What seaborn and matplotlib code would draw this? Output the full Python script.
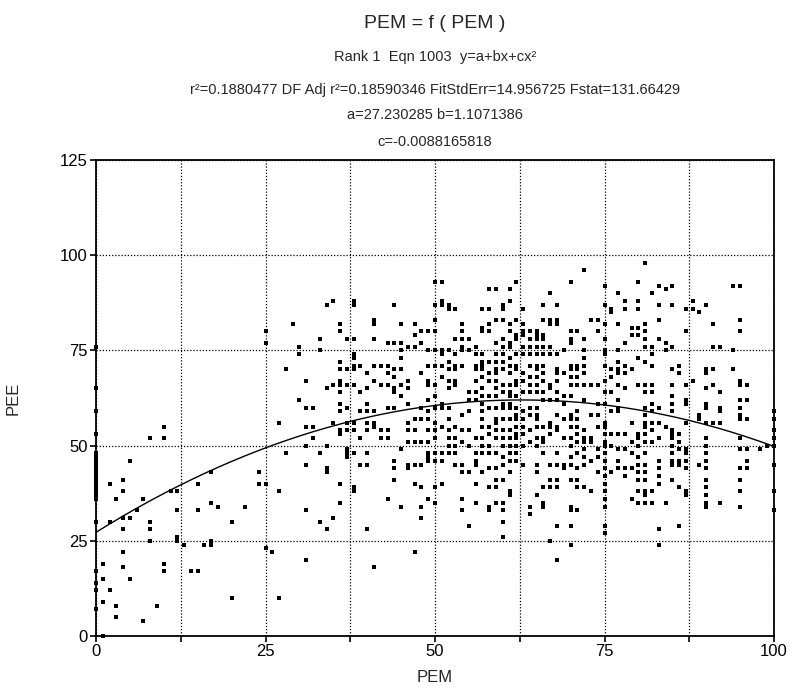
import numpy as np
import pandas as pd
import matplotlib
matplotlib.use("Agg")
import matplotlib.pyplot as plt
import seaborn as sns

# ---- data (PEM on x, PEE on y) ----
pem_columns = [0, 1, 2, 3, 4, 5, 6, 7, 8, 9, 10, 11, 12, 13, 14, 15, 16, 17, 18, 20,
               22, 24, 25, 26, 27, 28, 29, 30, 31, 32, 33, 34, 35, 36, 37, 38, 39, 40,
               41, 42, 43, 44, 45, 46, 47, 48, 49, 50, 51, 52, 53, 54, 55, 56, 57, 58,
               59, 60, 61, 62, 63, 64, 65, 66, 67, 68, 69, 70, 71, 72, 73, 74, 75, 76,
               77, 78, 79, 80, 81, 82, 83, 84, 85, 86, 87, 88, 89, 90, 91, 92, 94, 95,
               96, 98, 99, 100]
pee_columns = [
    [76, 65, 59, 53, 48, 47, 46, 45, 44, 43, 42, 41, 40, 39, 38, 37, 36, 30, 17, 14, 12, 7],
    [19, 15, 9, 0],
    [40, 30, 12],
    [36, 8, 5],
    [41, 38, 31, 28, 22, 18],
    [46, 31, 15],
    [33],
    [36, 4],
    [52, 30, 28, 25],
    [8],
    [55, 52, 19, 17],
    [38],
    [38, 33, 26, 25],
    [24],
    [17],
    [40, 33, 17],
    [24],
    [43, 35, 25, 24],
    [34],
    [30, 10],
    [34],
    [43, 40],
    [80, 77, 40, 23],
    [22],
    [56, 38, 10],
    [70, 48],
    [82],
    [76, 74, 62],
    [67, 60, 55, 50, 45, 33, 20],
    [60, 55, 52],
    [78, 75, 48, 30],
    [87, 65, 50, 44, 43, 28],
    [88, 66, 56, 31],
    [82, 80, 72, 70, 67, 66, 64, 61, 59, 54, 53, 40, 35],
    [78, 70, 66, 60, 56, 54, 49, 48, 47],
    [88, 87, 78, 74, 73, 71, 70, 66, 56, 54, 48, 39, 38],
    [71, 64, 59, 52, 45],
    [69, 65, 61, 59, 56, 54, 48, 45, 28],
    [83, 82, 78, 71, 67, 59, 56, 55, 18],
    [71, 66, 54, 52],
    [77, 71, 69, 66, 60, 54, 52, 36],
    [87, 77, 70, 68, 65, 64, 60, 46, 44, 41],
    [82, 77, 75, 73, 70, 66, 63, 49, 34],
    [76, 67, 65, 61, 56, 54, 51, 45, 44],
    [82, 79, 76, 57, 54, 51, 45, 40, 22],
    [80, 77, 69, 60, 57, 51, 45, 39, 34, 31],
    [80, 75, 71, 67, 66, 62, 59, 57, 54, 51, 48, 47, 46, 36],
    [93, 87, 83, 80, 75, 71, 66, 63, 60, 56, 54, 52, 48, 46, 39, 35],
    [93, 88, 87, 75, 74, 71, 68, 61, 60, 55, 48, 46, 40],
    [87, 86, 75, 72, 70, 67, 65, 60, 57, 54, 52, 50, 48],
    [86, 78, 74, 71, 70, 67, 66, 55, 52, 50, 48, 45],
    [82, 80, 78, 76, 75, 71, 58, 54, 51, 45, 43, 36, 33],
    [78, 75, 64, 62, 59, 54, 50, 43, 29],
    [76, 74, 71, 70, 67, 64, 62, 52, 48, 46, 45, 40, 35],
    [86, 81, 80, 74, 72, 71, 70, 68, 65, 63, 61, 59, 57, 55, 52, 50, 48, 43],
    [91, 86, 82, 80, 72, 69, 67, 63, 60, 55, 53, 50, 48, 44, 39, 34, 33],
    [91, 83, 77, 74, 72, 70, 69, 67, 65, 63, 60, 57, 56, 54, 52, 48, 44, 41, 39, 35],
    [87, 86, 83, 78, 76, 74, 72, 70, 66, 64, 61, 60, 57, 54, 52, 50, 47, 45, 41, 35, 33, 30, 26],
    [91, 88, 82, 80, 77, 76, 73, 71, 69, 66, 64, 63, 61, 60, 57, 54, 52, 50, 48, 46, 43, 38, 37],
    [93, 83, 79, 78, 74, 71, 70, 67, 66, 63, 60, 58, 57, 55, 53, 52, 50, 48, 46],
    [86, 82, 80, 79, 76, 74, 69, 67, 64, 59, 57, 55, 53, 50, 45],
    [80, 78, 76, 74, 71, 68, 66, 64, 60, 58, 54, 51, 34, 32],
    [80, 79, 78, 76, 74, 71, 70, 68, 66, 64, 60, 58, 57, 55, 52, 50, 45, 43, 37],
    [87, 83, 79, 78, 76, 74, 71, 69, 67, 64, 62, 55, 52, 51, 48, 39, 35, 34],
    [90, 83, 82, 76, 74, 66, 65, 62, 56, 55, 53, 45, 41, 39, 25],
    [87, 83, 82, 74, 70, 69, 67, 64, 62, 58, 55, 54, 48, 45, 41, 39, 29, 20],
    [75, 69, 63, 61, 57, 52, 45, 44],
    [93, 80, 78, 77, 71, 70, 68, 66, 63, 58, 57, 55, 52, 50, 47, 45, 41, 34, 33, 29, 24],
    [80, 71, 70, 68, 66, 59, 57, 55, 53, 51, 48, 44, 41, 39, 33],
    [96, 78, 75, 73, 71, 69, 66, 62, 54, 52, 51, 49, 47, 45, 39],
    [83, 66, 58, 52, 51, 46, 38],
    [83, 80, 66, 61, 58, 55, 49, 47, 43],
    [92, 87, 82, 78, 75, 74, 71, 67, 64, 61, 56, 55, 53, 51, 50, 48, 46, 44, 42, 40, 38, 36, 34, 29, 27],
    [86, 85, 70, 68, 64, 59, 53, 50, 43],
    [90, 82, 75, 72, 70, 69, 66, 62, 60, 59, 53, 49, 46, 44],
    [88, 86, 77, 71, 69, 65, 53, 49, 44, 42],
    [81, 79, 70, 56, 51, 48, 44, 36],
    [93, 88, 86, 81, 79, 73, 66, 53, 52, 50, 47, 45, 43, 41, 38, 35],
    [98, 82, 80, 78, 76, 72, 66, 64, 60, 58, 56, 55, 53, 51, 48, 45, 43, 41, 38, 37, 35],
    [90, 76, 74, 71, 66, 64, 61, 59, 56, 54, 51, 38, 35],
    [92, 87, 83, 78, 60, 56, 52, 46, 44, 42, 40, 28, 24],
    [91, 77, 75, 55, 35],
    [92, 87, 76, 70, 66, 63, 61, 59, 54, 53, 52, 50, 48, 46, 45, 41],
    [71, 69, 53, 51, 49, 46, 45, 39, 29],
    [86, 80, 66, 62, 61, 56, 49, 48, 46, 44, 38, 37],
    [88, 86, 67],
    [85, 58, 57, 45],
    [87, 70, 69, 65, 61, 60, 56, 52, 50, 48, 46, 44, 41, 39, 37, 35, 34],
    [82, 76, 70, 66, 56],
    [76, 64, 60, 59, 56, 35],
    [92, 75, 70],
    [92, 83, 80, 67, 66, 62, 60, 58, 57, 52, 49, 44, 41, 38, 34],
    [66, 62, 57, 49, 46, 44],
    [49],
    [50],
    [59, 57, 54, 52, 50, 45, 38, 33],
]

# fitted curve coefficients (from the chart header)
coef_a = 27.230285
coef_b = 1.1071386
coef_c = -0.0088165818

x_ticks = [0, 25, 50, 75, 100]
y_ticks = [0, 25, 50, 75, 100, 125]

title_lines = [
    "PEM = f ( PEM )",
    "Rank 1  Eqn 1003  y=a+bx+cx\u00b2",
    "r\u00b2=0.1880477 DF Adj r\u00b2=0.18590346 FitStdErr=14.956725 Fstat=131.66429",
    "a=27.230285 b=1.1071386",
    "c=-0.0088165818",
]

# ---- build table ----
rows = []
for xv, ys in zip(pem_columns, pee_columns):
    for yv in ys:
        rows.append((xv, yv))
df = pd.DataFrame(rows, columns=["PEM", "PEE"])

sns.set_style("white")
plt.rcParams["font.family"] = ["Liberation Sans", "DejaVu Sans"]

W, H = 795, 689
fig = plt.figure(figsize=(W / 100, H / 100), dpi=100)
L, R, T, B = 96, 774, 160, 636
ax = fig.add_axes([L / W, 1 - B / H, (R - L) / W, (B - T) / H])

sns.scatterplot(data=df, x="PEM", y="PEE", marker="s", s=12, color="black",
                linewidth=0, ax=ax, clip_on=False, zorder=3, legend=False)

xs = np.linspace(0, 100, 300)
ys = coef_a + coef_b * xs + coef_c * xs ** 2
ax.plot(xs, ys, color="black", lw=1.0, zorder=4)

ax.set_xlim(0, 100)
ax.set_ylim(0, 125)
ax.set_xticks(x_ticks)
ax.set_xticks(np.arange(12.5, 100, 25), minor=True)
ax.set_yticks(y_ticks)
ax.set_xticklabels([str(t) for t in x_ticks], fontsize=12)
ax.set_yticklabels([str(t) for t in y_ticks], fontsize=12)

grid_kw = dict(color="black", lw=0.9, ls=(0, (1, 1.5)))
ax.grid(True, which="major", axis="both", **grid_kw)
ax.grid(True, which="minor", axis="x", **grid_kw)
ax.set_axisbelow(True)

ax.tick_params(axis="both", which="both", direction="out", length=4, width=1.2,
               color="black", labelcolor="black", bottom=True, left=True, pad=2)
for sp in ax.spines.values():
    sp.set_color("black")
    sp.set_linewidth(1.3)

ax.set_xlabel("PEM", fontsize=12, labelpad=8)
ax.set_ylabel("PEE", fontsize=12, labelpad=28)

cx = (L + R) / 2 / W
line_y = [23, 57, 90, 115, 142]
line_fs = [14, 10.5, 10.5, 10.5, 10.5]
for txt, yy, fs in zip(title_lines, line_y, line_fs):
    fig.text(cx, 1 - yy / H, txt, ha="center", va="center", fontsize=fs)

fig.savefig("out.png", dpi=100)
